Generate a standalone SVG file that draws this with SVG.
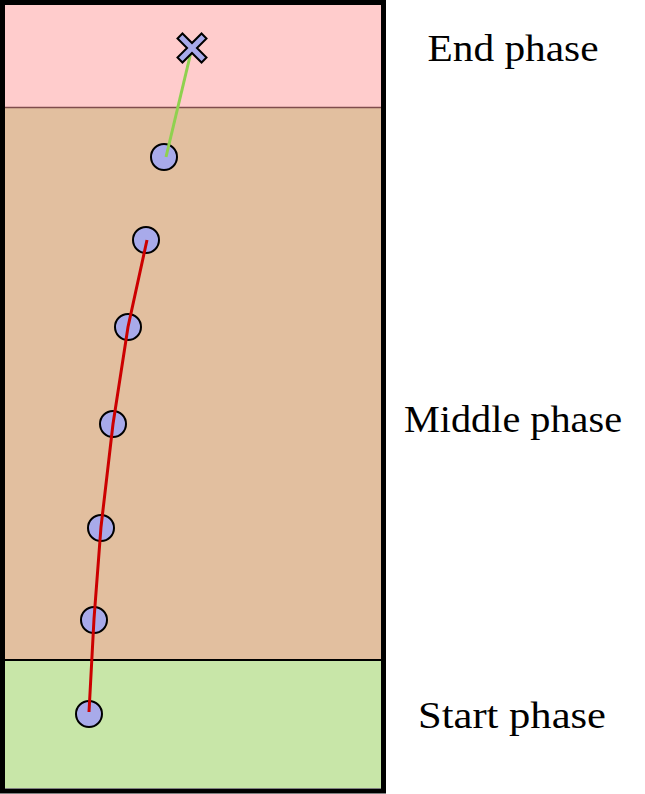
<svg xmlns="http://www.w3.org/2000/svg" width="645" height="794" viewBox="0 0 645 794">
<style>
.lbl{font-family:"Liberation Serif","DejaVu Serif",serif;font-size:37px;fill:#000;text-anchor:middle}
.pt{fill:#a8aaea;stroke:#000;stroke-width:2}
.path-red{fill:none;stroke:#cc0000;stroke-width:3;stroke-linecap:butt}
.path-green{fill:none;stroke:#8fd14f;stroke-width:3}
</style>
<rect width="645" height="794" fill="#fff"/>
<g id="phases">
<rect id="end-phase" x="5" y="5" width="376" height="102" fill="#ffcccc"/>
<rect id="middle-phase" x="5" y="107" width="376" height="553" fill="#e2bf9f"/>
<rect id="start-phase" x="5" y="660" width="376" height="128" fill="#c8e6a8"/>
<line x1="5" y1="107.5" x2="381" y2="107.5" stroke="#7f4c4c" stroke-width="1.5"/>
<line x1="5" y1="660" x2="381" y2="660" stroke="#000" stroke-width="2"/>
<rect x="2.5" y="2.5" width="381" height="788.5" fill="none" stroke="#000" stroke-width="5"/>
</g>
<g id="p1"><circle class="pt" cx="89" cy="714" r="13"/></g>
<g id="p2"><circle class="pt" cx="94" cy="620" r="13"/></g>
<g id="p3"><circle class="pt" cx="101" cy="528" r="13"/></g>
<g id="p4"><circle class="pt" cx="113" cy="424" r="13"/></g>
<g id="p5"><circle class="pt" cx="128" cy="327" r="13"/></g>
<g id="p6"><circle class="pt" cx="146" cy="240" r="13"/></g>
<g id="p7"><circle class="pt" cx="164" cy="157" r="13"/></g>
<g id="connectors">
<polyline class="path-red" points="89,712 94,619 101,527 113,424 128,327 147,240"/>
<line class="path-green" x1="166" y1="157" x2="191" y2="52"/>
</g>
<g id="end-marker" transform="translate(192,48) rotate(45)">
<polygon class="pt" points="-3.5,-17 3.5,-17 3.5,-3.5 17,-3.5 17,3.5 3.5,3.5 3.5,17 -3.5,17 -3.5,3.5 -17,3.5 -17,-3.5 -3.5,-3.5"/>
</g>
<g id="labels">
<text class="lbl" x="513" y="61" textLength="171" lengthAdjust="spacingAndGlyphs">End phase</text>
<text class="lbl" x="513" y="432" textLength="218" lengthAdjust="spacingAndGlyphs">Middle phase</text>
<text class="lbl" x="512" y="728" textLength="188" lengthAdjust="spacingAndGlyphs">Start phase</text>
</g>
</svg>
